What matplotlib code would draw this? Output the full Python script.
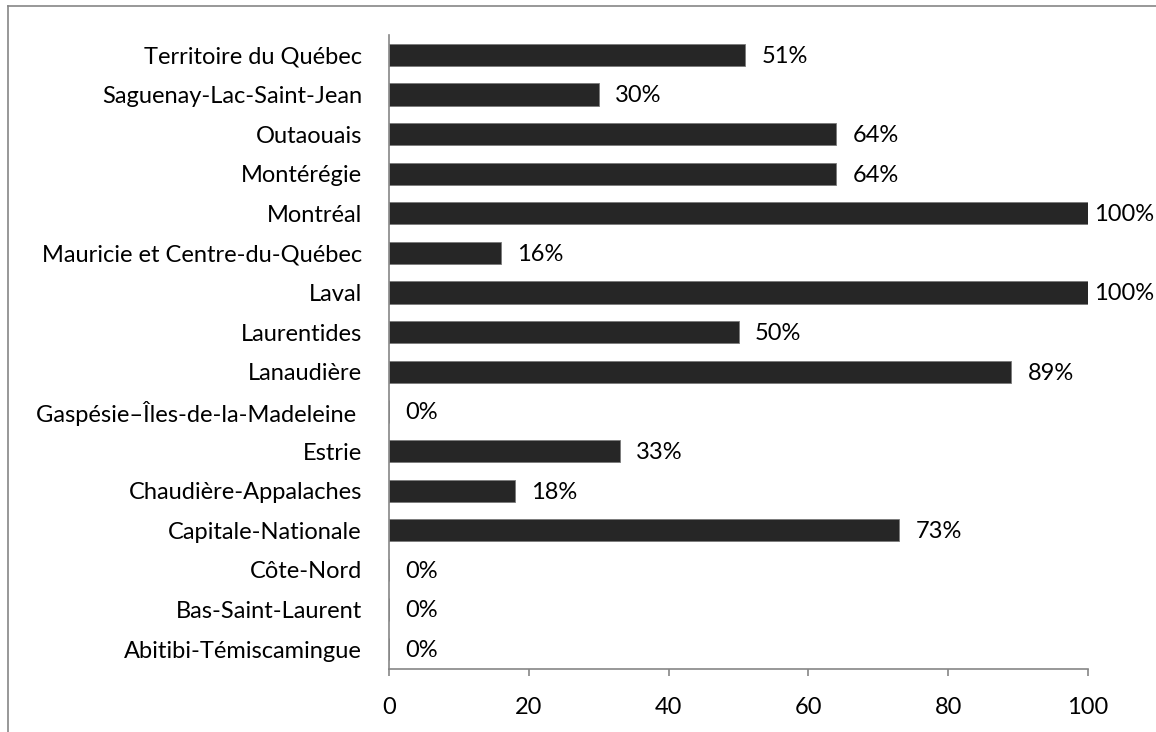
import matplotlib
matplotlib.use("Agg")
import matplotlib.pyplot as plt
from matplotlib.lines import Line2D

regions = [
    "Abitibi-Témiscamingue",
    "Bas-Saint-Laurent",
    "Côte-Nord",
    "Capitale-Nationale",
    "Chaudière-Appalaches",
    "Estrie",
    "Gaspésie–Îles-de-la-Madeleine ",
    "Lanaudière",
    "Laurentides",
    "Laval",
    "Mauricie et Centre-du-Québec",
    "Montréal",
    "Montérégie",
    "Outaouais",
    "Saguenay-Lac-Saint-Jean",
    "Territoire du Québec",
]
percent = [0, 0, 0, 73, 18, 33, 0, 89, 50, 100, 16, 100, 64, 64, 30, 51]
x_ticks = [0, 20, 40, 60, 80, 100]

plt.rcParams["font.family"] = ["Lato", "DejaVu Sans"]
FS = 17
AXIS_GREY = "#868686"

fig = plt.figure(figsize=(11.56, 7.32), dpi=100)
ax = fig.add_axes([389 / 1156, 1 - 669 / 732, (1088 - 389) / 1156, (669 - 35) / 732])

pos = list(range(len(regions)))
ax.barh(pos, percent, height=0.56, color="#262626", edgecolor="#7a7a7a", linewidth=0.6)

ax.set_xlim(0, 100)
ax.set_ylim(-0.5, len(regions) - 0.5)
ax.set_yticks(pos)
ax.set_yticklabels(regions, fontsize=FS, color="black")
ax.tick_params(axis="y", length=0, pad=19.5)
ax.set_xticks(x_ticks)
ax.set_xticklabels([str(t) for t in x_ticks], fontsize=FS, color="black")
ax.tick_params(axis="x", length=5, width=1.2, color=AXIS_GREY, pad=15, direction="out")

for side in ("top", "right"):
    ax.spines[side].set_visible(False)
for side in ("left", "bottom"):
    ax.spines[side].set_color(AXIS_GREY)
    ax.spines[side].set_linewidth(1.2)

for y, v in zip(pos, percent):
    off = 4.3 if v >= 100 else 12
    ax.annotate(f"{v}%", xy=(v, y), xytext=(off, -1), textcoords="offset points",
                ha="left", va="center", fontsize=FS, color="black", annotation_clip=False)

# outer frame of the chart area (left and top edges)
fig.add_artist(Line2D([8 / 1156, 8 / 1156], [0, 1 - 6 / 732], transform=fig.transFigure,
                      color=AXIS_GREY, linewidth=1.2))
fig.add_artist(Line2D([8 / 1156, 1], [1 - 6 / 732, 1 - 6 / 732], transform=fig.transFigure,
                      color=AXIS_GREY, linewidth=1.2))

fig.savefig("out.png", dpi=100)
